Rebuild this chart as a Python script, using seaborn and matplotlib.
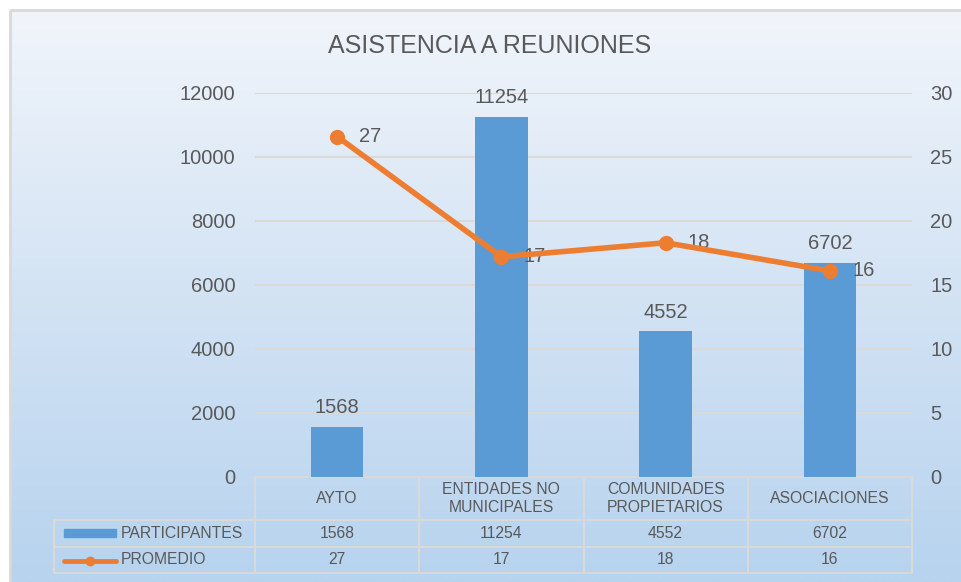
import numpy as np
import matplotlib
matplotlib.use("Agg")
import matplotlib.pyplot as plt
import matplotlib.transforms as mtransforms
from matplotlib.patches import Rectangle
from matplotlib.lines import Line2D
from matplotlib.colors import LinearSegmentedColormap
import seaborn as sns

categories = ["AYTO", "ENTIDADES NO\nMUNICIPALES", "COMUNIDADES\nPROPIETARIOS", "ASOCIACIONES"]
participantes = [1568, 11254, 4552, 6702]
promedio = [26.6, 17.2, 18.3, 16.1]
left_ticks = [0, 2000, 4000, 6000, 8000, 10000, 12000]
right_ticks = [0, 5, 10, 15, 20, 25, 30]
title = "ASISTENCIA A REUNIONES"

BLUE = "#5B9BD5"
ORANGE = "#ED7D31"
TXT = "#595959"
GRID = "#D9D9D9"

sns.set_theme(style="white")
plt.rcParams["font.family"] = ["Liberation Sans", "DejaVu Sans"]

fig = plt.figure(figsize=(9.62, 5.82), dpi=100)
fig.patch.set_facecolor("white")

# gradient background box
bg = fig.add_axes([0, 0, 1, 1], zorder=-10)
grad = np.linspace(0, 1, 256).reshape(-1, 1)
cmap = LinearSegmentedColormap.from_list("bgc", ["#F1F5FB", "#D3E3F4", "#B7D3EE"])
bg.imshow(grad, aspect="auto", cmap=cmap, extent=[10, 970, 582, 10])
bg.add_patch(Rectangle((10, 10), 960, 580, fill=False, ec=GRID, lw=2))
bg.set_xlim(0, 962)
bg.set_ylim(582, 0)
bg.axis("off")

ax = fig.add_axes([255 / 962, 105 / 582, 657 / 962, 384 / 582])
ax.patch.set_alpha(0)
x = np.arange(len(categories))
sns.barplot(x=x, y=participantes, color=BLUE, width=0.32, saturation=1, ax=ax,
            linewidth=0, zorder=3)
ax.set_xlim(-0.5, len(categories) - 0.5)
ax.set_ylim(0, 12000)
ax.set_yticks(left_ticks)
ax.yaxis.grid(True, color=GRID, lw=1.5, zorder=0)
ax.set_axisbelow(True)
ax.tick_params(axis="y", length=0, pad=14, labelsize=14.5, labelcolor=TXT)
ax.set_xticks([])
ax.set_xlabel("")
for s in ax.spines.values():
    s.set_visible(False)
ax.bar_label(ax.containers[0], labels=[str(v) for v in participantes],
             padding=7, fontsize=14.5, color=TXT)

ax2 = ax.twinx()
sns.lineplot(x=x, y=promedio, ax=ax2, color=ORANGE, lw=4, marker="o",
             markersize=11, markeredgewidth=0, zorder=5)
ax2.set_ylim(0, 30)
ax2.set_yticks(right_ticks)
ax2.tick_params(axis="y", length=0, pad=13, labelsize=14.5, labelcolor=TXT)
ax2.grid(False)
for s in ax2.spines.values():
    s.set_visible(False)
for xi, v in zip(x, promedio):
    ax2.annotate(f"{v:.0f}", (xi, v), xytext=(16, 0), textcoords="offset points",
                 ha="left", va="center", fontsize=14.5, color=TXT)

fig.text(490 / 962, 1 - 46 / 582, title, ha="center", va="center", fontsize=18, color=TXT)

# data table under the plot
blend = mtransforms.blended_transform_factory(ax.transData, ax.transAxes)
y_head = -43 / 384
y_r1 = -70 / 384
y_r2 = -96 / 384
x_left = (54 - 255) / 657
line_kw = dict(color=GRID, lw=1.5, clip_on=False)
ax.plot([-0.5, len(categories) - 0.5], [0, 0], transform=blend, **line_kw)
for yy in (y_head, y_r1, y_r2):
    ax.plot([x_left, 1], [yy, yy], transform=ax.transAxes, **line_kw)
ax.plot([x_left, x_left], [y_head, y_r2], transform=ax.transAxes, **line_kw)
for k in range(len(categories) + 1):
    ax.plot([k - 0.5, k - 0.5], [0, y_r2], transform=blend, **line_kw)

for xi, c, p, m in zip(x, categories, participantes, promedio):
    ax.text(xi, y_head / 2, c, transform=blend, ha="center", va="center",
            fontsize=11.3, color=TXT, linespacing=1.3)
    ax.text(xi, (y_head + y_r1) / 2, str(p), transform=blend, ha="center", va="center",
            fontsize=11.3, color=TXT)
    ax.text(xi, (y_r1 + y_r2) / 2, f"{m:.0f}", transform=blend, ha="center", va="center",
            fontsize=11.3, color=TXT)

kx0, kx1 = (64 - 255) / 657, (116 - 255) / 657
ax.add_patch(Rectangle((kx0, -60 / 384), kx1 - kx0, 8 / 384, transform=ax.transAxes,
                       color=BLUE, clip_on=False))
ax.add_line(Line2D([kx0, kx1], [-84 / 384, -84 / 384], transform=ax.transAxes,
                   color=ORANGE, lw=3.5, clip_on=False))
ax.add_line(Line2D([(kx0 + kx1) / 2], [-84 / 384], transform=ax.transAxes, marker="o",
                   markersize=6, color=ORANGE, clip_on=False))
tx = (121 - 255) / 657
ax.text(tx, (y_head + y_r1) / 2, "PARTICIPANTES", transform=ax.transAxes, ha="left",
        va="center", fontsize=11.3, color=TXT)
ax.text(tx, (y_r1 + y_r2) / 2, "PROMEDIO", transform=ax.transAxes, ha="left",
        va="center", fontsize=11.3, color=TXT)

fig.savefig("out.png", dpi=100)
